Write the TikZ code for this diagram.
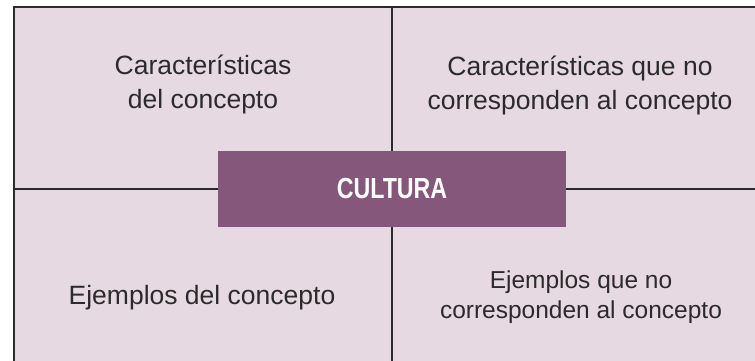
\documentclass[tikz,border=0pt]{standalone}
\usepackage{fontspec}
\setmainfont{Liberation Sans}
\newfontfamily\estrecha[FakeStretch=0.8]{Liberation Sans}
\usetikzlibrary{positioning}
\definecolor{fondo}{HTML}{E6D9E2}
\definecolor{morado}{HTML}{85587B}
\definecolor{texto}{HTML}{2B2B2B}
\tikzstyle{every node}=[font=\fontsize{26.5}{34}\selectfont,text=texto,align=center,inner sep=0pt]
\tikzstyle{linea} = [line width=2.6pt,draw=texto]
\tikzstyle{concepto} = [fill=morado,text=white,minimum width=348pt,minimum height=76pt,font=\estrecha\fontsize{29}{30}\selectfont\bfseries]

\begin{document}
\begin{tikzpicture}[x=1pt,y=-1pt]
\useasboundingbox (0,0) rectangle (755,361);
\fill[fondo] (14,7) rectangle (760,366);
\draw[linea] (760,7) -- (14,7) -- (14,366);
\draw[linea] (392,7) -- (392,366);
\draw[linea] (14,189) -- (760,189);

% base = last line
\node[anchor=base] (caract) at (203,108) {Características\\del concepto};
\node[anchor=base] (nocaract) at (580,109) {Características que no\\corresponden al concepto};
\node[anchor=base] (ejemplos) at (202,304) {Ejemplos del concepto};
\node[anchor=base,font=\fontsize{24.5}{30}\selectfont] (noejemplos) at (581,318) {Ejemplos que no\\corresponden al concepto};

\node[concepto] (cultura) at (392,189) {CULTURA};
\end{tikzpicture}
\end{document}
